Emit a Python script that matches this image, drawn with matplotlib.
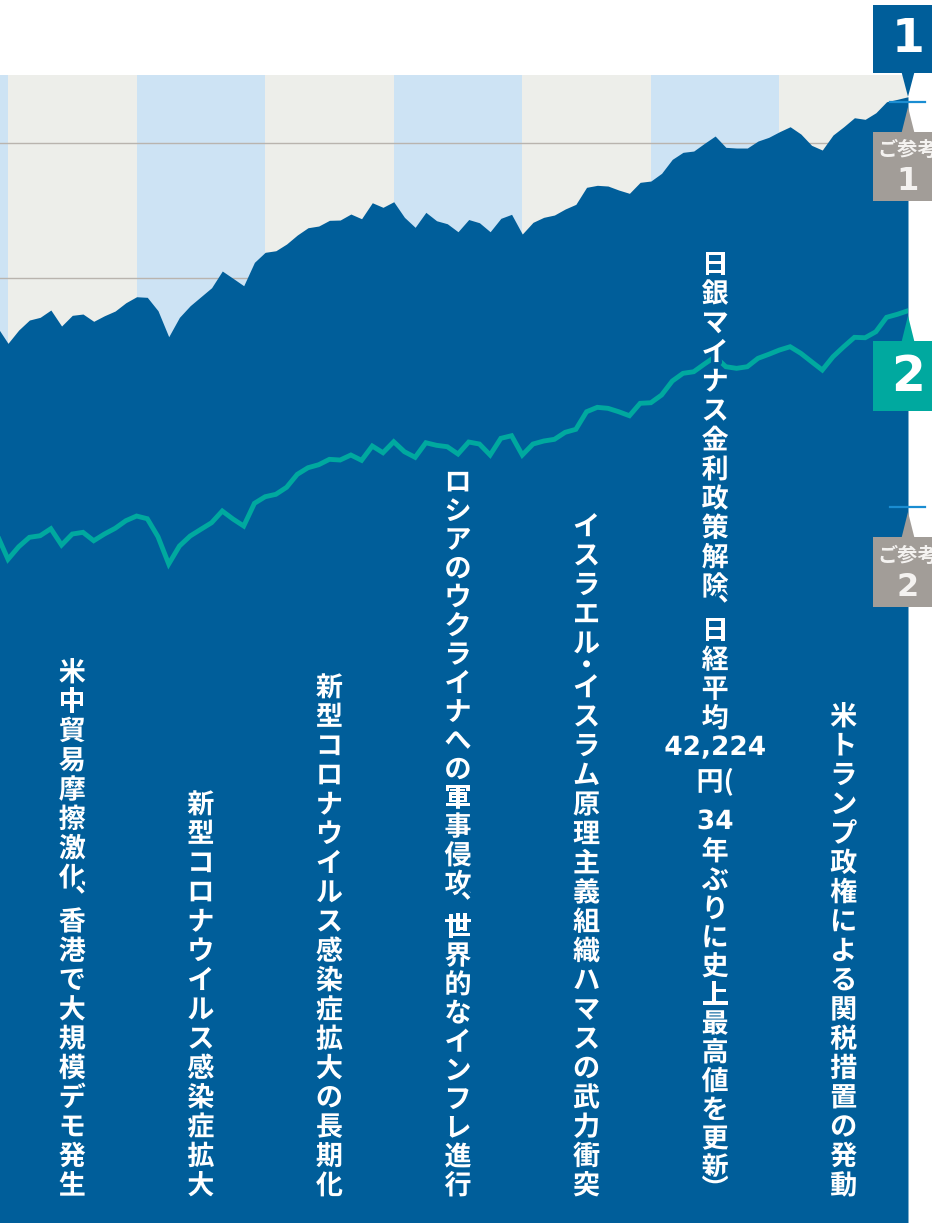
import matplotlib
matplotlib.use("Agg")
import matplotlib.pyplot as plt
import matplotlib.patheffects as pe
from matplotlib.patches import Rectangle, Polygon
from matplotlib.transforms import blended_transform_factory
import numpy as np

plt.rcParams['font.family'] = ['Noto Sans CJK JP', 'DejaVu Sans']

# month index: -1 = Nov 2018 ... 0 = Dec 2018 ... 84 = Dec 2025
months = np.arange(-1, 85)

# series 1 (area) and series 2 (line)
series1 = [66370, 65163, 66148, 66889, 67089, 67630, 66444, 67237, 67333, 66793,
           67207, 67556, 68170, 68615, 68570, 67578, 65652, 67089, 67948, 68615,
           69281, 70519, 69978, 69430, 71163, 71904, 72022, 72519, 73185, 73726,
           73852, 74274, 74296, 74741, 74393, 75578, 75237, 75652, 74496, 73756,
           74867, 74244, 74022, 73430, 74333, 74096, 73430, 74422, 74719, 73259,
           74126, 74496, 74667, 75111, 75459, 76719, 76867, 76815, 76519, 76274,
           77089, 77185, 77756, 78793, 79311, 79407, 79978, 80519, 79681, 79630,
           79630, 80148, 80422, 80837, 81207, 80667, 79830, 79481, 80593, 81207,
           81874, 81756, 82244, 83059, 83237, 83430]
series2 = [50948, 49163, 50096, 50793, 50911, 51430, 50222, 51037, 51163, 50541,
           51037, 51459, 52022, 52370, 52170, 50837, 48815, 50148, 50889, 51385,
           51874, 52741, 52148, 51630, 53311, 53800, 53978, 54496, 55459, 55948,
           56170, 56570, 56519, 56889, 56496, 57556, 57059, 57874, 57133, 56719,
           57800, 57607, 57504, 56963, 57852, 57704, 56889, 58126, 58319, 56889,
           57704, 57926, 58052, 58570, 58793, 60096, 60422, 60348, 60096, 59800,
           60719, 60763, 61333, 62370, 62941, 63059, 63630, 64170, 63430, 63311,
           63430, 64052, 64348, 64667, 64911, 64422, 63800, 63185, 64170, 64911,
           65607, 65578, 66022, 67089, 67311, 67578]

ref_values = [83040, 53040]          # ご参考 1, ご参考 2
grid_values = [70000, 80000]

band_years = [2018, 2019, 2020, 2021, 2022, 2023, 2024, 2025]

event_years = [2019, 2020, 2021, 2022, 2023, 2025]
event_texts = [
    "米中貿易摩擦激化、香港で大規模デモ発生",
    "新型コロナウイルス感染症拡大",
    "新型コロナウイルス感染症拡大の長期化",
    "ロシアのウクライナへの軍事侵攻、世界的なインフレ進行",
    "イスラエル・イスラム原理主義組織ハマスの武力衝突",
    "米トランプ政権による関税措置の発動",
]
event_tops = [673, 805, 688, 483, 527, 717]

DARK = '#005E9A'
TEAL = '#00A99F'
GRAYBAND = '#EDEEEA'
BLUEBAND = '#CDE3F4'
GRID = '#B9B4AE'
REFBOX = '#A29D98'
TICK = '#1A8DD2'

W, H = 932, 1223
fig = plt.figure(figsize=(W / 100, H / 100), dpi=100)
ax = fig.add_axes([0, 0, 908 / W, (H - 75) / H])
ax.set_xlim(-0.7467, 84)
ax.set_ylim(0, 85040)
ax.axis('off')

for k, yr in enumerate(band_years):
    start = (yr - 2019) * 12
    ax.axvspan(start, start + 12, color=GRAYBAND if k % 2 else BLUEBAND, lw=0, zorder=1)
for g in grid_values:
    ax.axhline(g, color=GRID, lw=1.0, zorder=2)

ax.fill_between(months, series1, 0, color=DARK, lw=0, zorder=3)
ax.plot(months, series2, color=TEAL, lw=3.5, zorder=4, solid_joinstyle='miter')

# reference ticks
for v in ref_values:
    ax.plot([82.3, 85.6], [v, v], color=TICK, lw=1.6, zorder=6, clip_on=False)

# overlay in pixel coordinates
ov = fig.add_axes([0, 0, 1, 1], zorder=5)
ov.set_xlim(0, W)
ov.set_ylim(H, 0)
ov.axis('off')
ov.patch.set_alpha(0)


def to_px(x, y):
    dx, dy = ax.transData.transform((x, y))
    return ov.transData.inverted().transform((dx, dy))


end1 = to_px(84, series1[-1])
end2 = to_px(84, series2[-1])
r1 = to_px(84, ref_values[0])
r2 = to_px(84, ref_values[1])
cx = end1[0]

bold = dict(ha='center', va='center', fontweight='bold')
num = dict(ha='center', va='center', fontweight='bold', family='DejaVu Sans')

# box 1
ov.add_patch(Rectangle((873, 5), 72, 68, color=DARK, lw=0))
ov.add_patch(Polygon([(cx - 6.5, 72), (cx + 6.5, 72), (cx, end1[1])], color=DARK, lw=0))
ov.text(cx, 39, "1", color='white', fontsize=34, **num)

# ref box 1
ov.add_patch(Rectangle((873, 132), 72, 69, color=REFBOX, lw=0))
ov.add_patch(Polygon([(cx - 6.5, 133), (cx + 6.5, 133), (cx, r1[1] + 5)], color=REFBOX, lw=0))
ov.text(cx, 149, "ご参考", color='#F4F2F0', fontsize=14.5, **bold)
ov.text(cx, 181, "1", color='#F4F2F0', fontsize=23, **num)

# box 2
ov.add_patch(Rectangle((873, 341), 72, 70, color=TEAL, lw=0))
ov.add_patch(Polygon([(cx - 6.5, 342), (cx + 6.5, 342), (cx, end2[1] + 5)], color=TEAL, lw=0))
ov.text(cx, 377, "2", color='white', fontsize=35, **num)

# ref box 2
ov.add_patch(Rectangle((873, 537), 72, 70, color=REFBOX, lw=0))
ov.add_patch(Polygon([(cx - 6.5, 538), (cx + 6.5, 538), (cx, r2[1] + 5)], color=REFBOX, lw=0))
ov.text(cx, 555, "ご参考", color='#F4F2F0', fontsize=14.5, **bold)
ov.text(cx, 587, "2", color='#F4F2F0', fontsize=23, **num)

# vertical event texts
tr = blended_transform_factory(ax.transData, ov.transData)
stroke = [pe.withStroke(linewidth=5, foreground=DARK)]
FS = 19.5
BOTTOM = 1186


def vcol(xd, y_top, y_bot, text):
    chars = [('︑' if c == '、' else c) for c in text]
    w = [0.5 if c in '、・' else 1.0 for c in text]
    pos = [0.0]
    for k in range(1, len(text)):
        pos.append(pos[-1] + (w[k - 1] + w[k]) / 2)
    step = (y_bot - y_top) / pos[-1] if pos[-1] else 0
    for c, p in zip(chars, pos):
        ov.text(xd, y_top + p * step, c, transform=tr, color='white', fontsize=FS,
                path_effects=stroke, **bold)


for yr, txt, top in zip(event_years, event_texts, event_tops):
    vcol((yr - 2019) * 12 + 6, top, BOTTOM, txt)

# 2024 column with horizontal numbers
x24 = (2024 - 2019) * 12 + 6
vcol(x24, 265, 719, "日銀マイナス金利政策解除、日経平均")
ov.text(x24, 748, "42,224", transform=tr, color='white', fontsize=19,
        path_effects=stroke, **num)
ov.text(x24, 782, "円(", transform=tr, color='white', fontsize=FS,
        path_effects=stroke, **bold)
ov.text(x24, 822, "34", transform=tr, color='white', fontsize=19,
        path_effects=stroke, **num)
vcol(x24, 852, 1168, "年ぶりに史上最高値を更新")
ov.text(x24, 1190, "︶", transform=tr, color='white', fontsize=FS,
        path_effects=stroke, **bold)

fig.savefig("out.png", dpi=100)
